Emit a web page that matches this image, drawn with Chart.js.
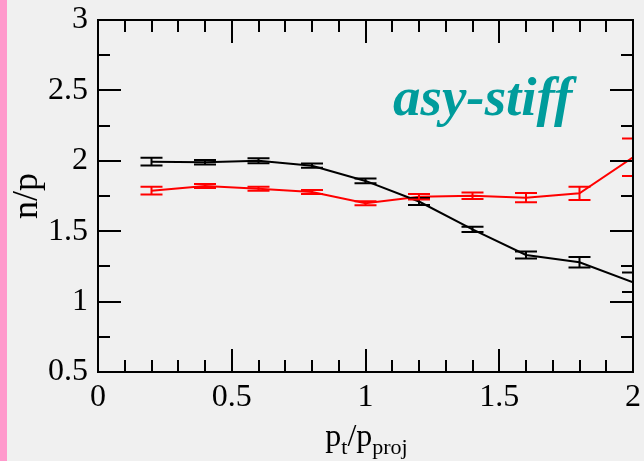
<!DOCTYPE html>
<html>
<head>
<meta charset="utf-8">
<script src="https://cdn.jsdelivr.net/npm/chart.js@4/dist/chart.umd.min.js"></script>
<style>
  html, body { margin: 0; padding: 0; background: #f0f0f0; }
  #wrap { width: 644px; height: 461px; }
</style>
</head>
<body>
<div id="wrap"><canvas id="chart" width="644" height="461"></canvas></div>
<script>
const xValues = [0.2, 0.4, 0.6, 0.8, 1.0, 1.2, 1.4, 1.6, 1.8, 2.0];
const blackY = [1.994, 1.99, 2.0, 1.965, 1.857, 1.711, 1.513, 1.331, 1.279, 1.137];
const blackErr = [0.028, 0.016, 0.018, 0.015, 0.017, 0.025, 0.018, 0.025, 0.037, 0.069];
const redY = [1.788, 1.821, 1.802, 1.778, 1.698, 1.745, 1.752, 1.738, 1.769, 2.025];
const redErr = [0.027, 0.015, 0.014, 0.014, 0.014, 0.02, 0.023, 0.033, 0.047, 0.133];

const serif = "'Liberation Serif', 'DejaVu Serif', serif";

function toPoints(ys) {
  return xValues.map((x, i) => ({ x: x, y: ys[i] }));
}

// background + pink strip on the left
const backdrop = {
  id: 'backdrop',
  beforeDraw(chart) {
    const ctx = chart.ctx;
    ctx.save();
    ctx.fillStyle = '#f0f0f0';
    ctx.fillRect(0, 0, chart.width, chart.height);
    ctx.fillStyle = '#ff99cc';
    ctx.fillRect(0, 0, 7, chart.height);
    ctx.restore();
  }
};

// error bars drawn through the scales
const errorBars = {
  id: 'errorBars',
  afterDatasetsDraw(chart) {
    const ctx = chart.ctx;
    const xs = chart.scales.x, ys = chart.scales.y;
    const area = chart.chartArea;
    ctx.save();
    ctx.beginPath();
    ctx.rect(area.left, area.top, area.right - area.left, area.bottom - area.top);
    ctx.clip();
    chart.data.datasets.forEach(ds => {
      ctx.strokeStyle = ds.borderColor;
      ctx.lineWidth = 2;
      ds.data.forEach((p, i) => {
        const px = xs.getPixelForValue(p.x);
        const top = ys.getPixelForValue(p.y + ds.errors[i]);
        const bot = ys.getPixelForValue(p.y - ds.errors[i]);
        ctx.beginPath();
        ctx.moveTo(px, top); ctx.lineTo(px, bot);
        ctx.moveTo(px - 11, top); ctx.lineTo(px + 11, top);
        ctx.moveTo(px - 11, bot); ctx.lineTo(px + 11, bot);
        ctx.stroke();
      });
    });
    ctx.restore();
  }
};

// frame, inward ticks, x title, label
const frame = {
  id: 'frame',
  afterDraw(chart) {
    const ctx = chart.ctx;
    const xs = chart.scales.x, ys = chart.scales.y;
    const a = chart.chartArea;
    ctx.save();
    ctx.strokeStyle = '#000';
    ctx.lineWidth = 2;
    ctx.strokeRect(a.left, a.top, a.right - a.left, a.bottom - a.top);
    ctx.beginPath();
    for (let k = 0; k <= 20; k++) {
      const v = k / 10;
      const len = k % 5 === 0 ? 23 : 12;
      const px = Math.round(xs.getPixelForValue(v));
      ctx.moveTo(px, a.bottom); ctx.lineTo(px, a.bottom - len);
      ctx.moveTo(px, a.top); ctx.lineTo(px, a.top + len);
    }
    for (let k = 2; k <= 12; k++) {
      const v = k / 4;
      const len = k % 2 === 0 ? 23 : 12;
      const py = Math.round(ys.getPixelForValue(v));
      ctx.moveTo(a.left, py); ctx.lineTo(a.left + len, py);
      ctx.moveTo(a.right, py); ctx.lineTo(a.right - len, py);
    }
    ctx.stroke();

    // x axis title with subscripts
    const parts = [
      { t: 'p', s: 32, dy: 0 },
      { t: 't', s: 22, dy: 8 },
      { t: '/p', s: 32, dy: 0 },
      { t: 'proj', s: 22, dy: 8 }
    ];
    let total = 0;
    parts.forEach(p => { ctx.font = p.s + 'px ' + serif; p.w = ctx.measureText(p.t).width; total += p.w; });
    let x = (a.left + a.right) / 2 - total / 2 + 1;
    const base = 446;
    ctx.fillStyle = '#000';
    ctx.textBaseline = 'alphabetic';
    ctx.textAlign = 'left';
    parts.forEach(p => {
      ctx.font = p.s + 'px ' + serif;
      ctx.fillText(p.t, x, base + p.dy);
      x += p.w;
    });

    ctx.font = 'italic bold 55px ' + serif;
    ctx.fillStyle = '#009c9c';
    ctx.fillText('asy-stiff', 393, 115);
    ctx.restore();
  }
};

new Chart(document.getElementById('chart'), {
  type: 'line',
  data: {
    datasets: [
      {
        label: 'black',
        data: toPoints(blackY),
        errors: blackErr,
        borderColor: '#000000',
        borderWidth: 2,
        pointRadius: 0,
        tension: 0
      },
      {
        label: 'red',
        data: toPoints(redY),
        errors: redErr,
        borderColor: '#ff0000',
        borderWidth: 2,
        pointRadius: 0,
        tension: 0
      }
    ]
  },
  options: {
    responsive: false,
    animation: false,
    layout: { autoPadding: false, padding: { left: 0, top: 20, right: 11, bottom: 0 } },
    plugins: { legend: { display: false }, tooltip: { enabled: false } },
    scales: {
      x: {
        type: 'linear',
        min: 0, max: 2,
        grid: { display: false, drawTicks: false },
        border: { display: false },
        ticks: { stepSize: 0.5, padding: 6, color: '#000', font: { family: serif, size: 32 }, maxRotation: 0,
                 callback: v => String(v) },
        afterFit(scale) { scale.height = 89; scale.paddingLeft = 0; scale.paddingRight = 0; }
      },
      y: {
        min: 0.5, max: 3,
        grid: { display: false, drawTicks: false },
        border: { display: false },
        ticks: { stepSize: 0.5, padding: 10, color: '#000', font: { family: serif, size: 32 },
                 callback: v => String(v) },
        title: { display: true, text: 'n/p', color: '#000', font: { family: serif, size: 36 }, padding: { top: 6, bottom: 0 } },
        afterFit(scale) { scale.width = 98; scale.paddingTop = 0; scale.paddingBottom = 0; }
      }
    }
  },
  plugins: [backdrop, errorBars, frame]
});
</script>
</body>
</html>
